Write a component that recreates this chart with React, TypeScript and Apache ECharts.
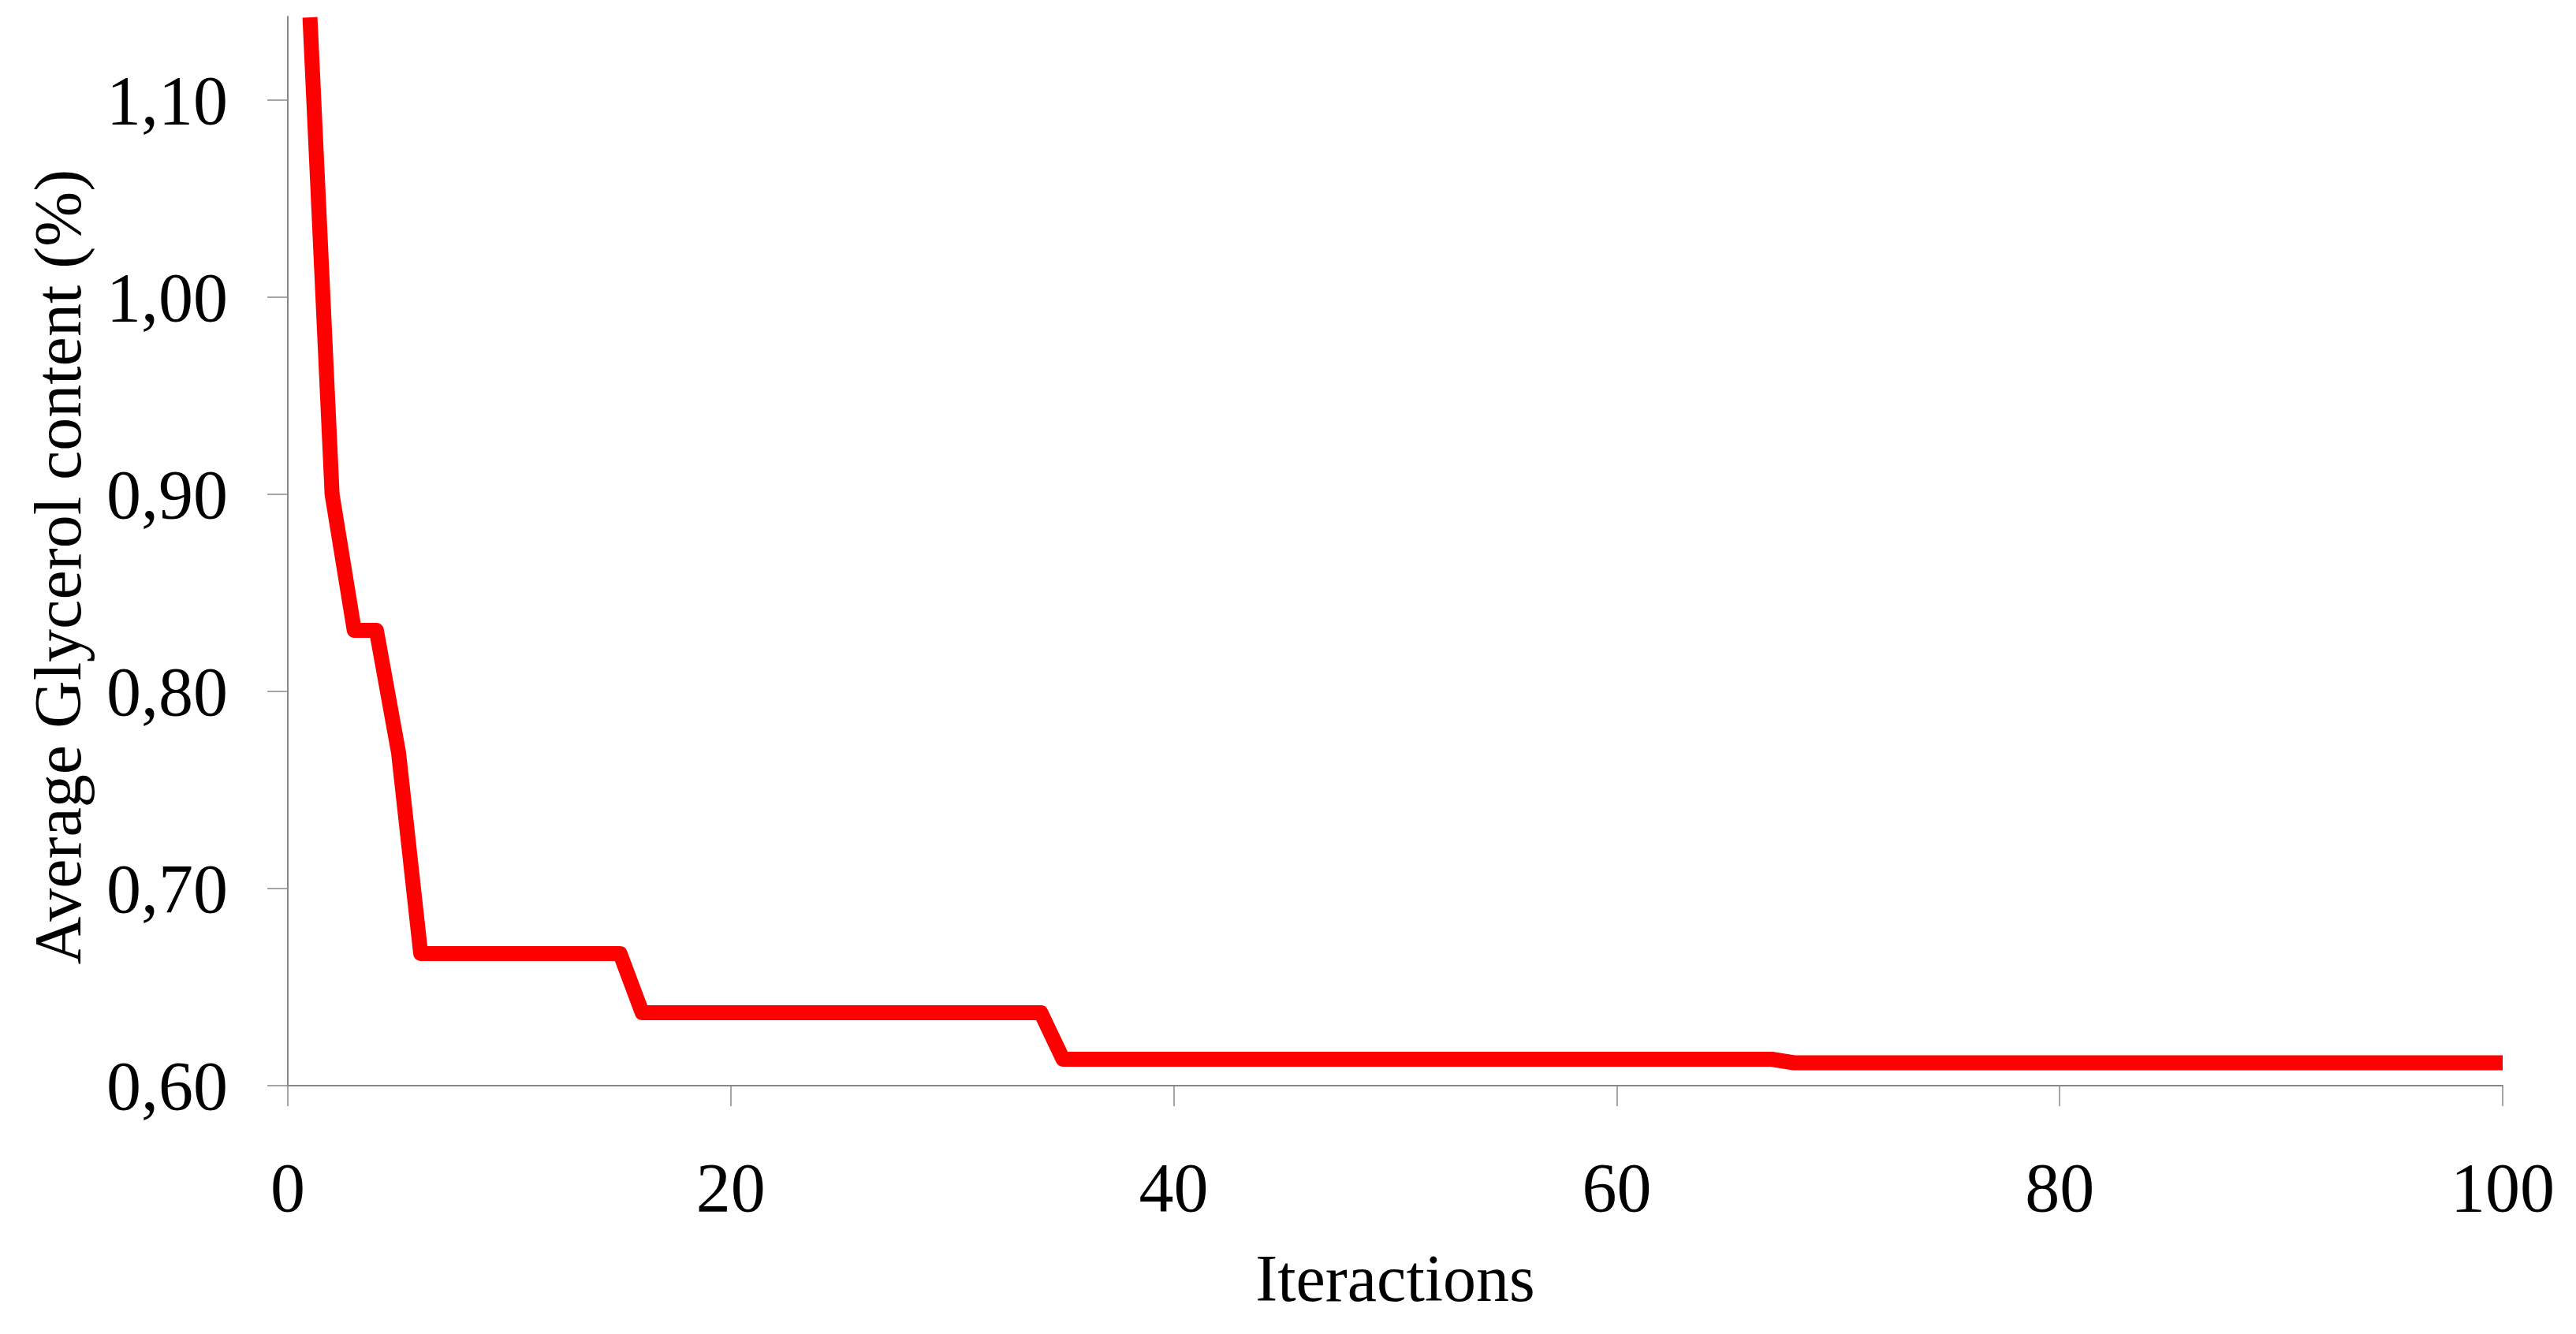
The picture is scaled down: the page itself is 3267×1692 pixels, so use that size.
import React, { useEffect, useRef } from "react";
import * as echarts from "echarts";

// Breakpoints of the convergence curve (iteration, average glycerol content %)
const iterations = [1, 2, 3, 4, 5, 6, 15, 16, 34, 35, 67, 68, 100];
const glycerol = [1.142, 0.9, 0.831, 0.831, 0.769, 0.667, 0.667, 0.637, 0.637, 0.6134, 0.6134, 0.6116, 0.6116];

const yTicks = [0.6, 0.7, 0.8, 0.9, 1.0, 1.1];
const xTicks = [0, 20, 40, 60, 80, 100];

const xName = "Iteractions";
const yName = "Average Glycerol content (%)";

const FONT = '"Liberation Serif", "Times New Roman", serif';
const AXIS_GREY = "#878787";

export default function App() {
  const ref = useRef<HTMLDivElement>(null);

  useEffect(() => {
    document.body.style.margin = "0";
    document.body.style.overflow = "hidden";
    const chart = echarts.init(ref.current!, null, { renderer: "svg" });
    const data = iterations.map((it, i) => [it, glycerol[i]]);
    chart.setOption({
      animation: false,
      backgroundColor: "#ffffff",
      grid: { left: 365, top: 21, width: 2809, height: 1356, containLabel: false },
      xAxis: {
        type: "value",
        min: 0,
        max: 100,
        interval: 20,
        name: xName,
        nameLocation: "middle",
        nameGap: 202,
        nameTextStyle: { fontFamily: FONT, fontSize: 84, color: "#000" },
        axisLine: { show: true, onZero: false, lineStyle: { color: AXIS_GREY, width: 2 } },
        axisTick: { show: true, inside: false, length: 26, customValues: xTicks, lineStyle: { color: AXIS_GREY, width: 1.5 } },
        axisLabel: { customValues: xTicks, margin: 85, fontFamily: FONT, fontSize: 88, color: "#000" },
        splitLine: { show: false },
      },
      yAxis: {
        type: "value",
        min: 0.6,
        max: 1.1424,
        interval: 0.1,
        name: yName,
        nameLocation: "middle",
        nameRotate: 90,
        nameGap: 250,
        nameTextStyle: { fontFamily: FONT, fontSize: 84, color: "#000", padding: [0, 40, 0, 0] },
        axisLine: { show: true, onZero: false, lineStyle: { color: AXIS_GREY, width: 2 } },
        axisTick: { show: true, inside: false, length: 26, customValues: yTicks, lineStyle: { color: AXIS_GREY, width: 1.5 } },
        axisLabel: {
          customValues: yTicks,
          margin: 76,
          fontFamily: FONT,
          fontSize: 88,
          color: "#000",
          formatter: (v: number) => v.toFixed(2).replace(".", ","),
        },
        splitLine: { show: false },
      },
      series: [
        {
          type: "line",
          data,
          showSymbol: false,
          symbol: "none",
          clip: true,
          lineStyle: { color: "#ff0000", width: 19, cap: "butt", join: "round" },
        },
      ],
    });
    return () => chart.dispose();
  }, []);

  return <div ref={ref} style={{ width: 3267, height: 1692 }} />;
}
